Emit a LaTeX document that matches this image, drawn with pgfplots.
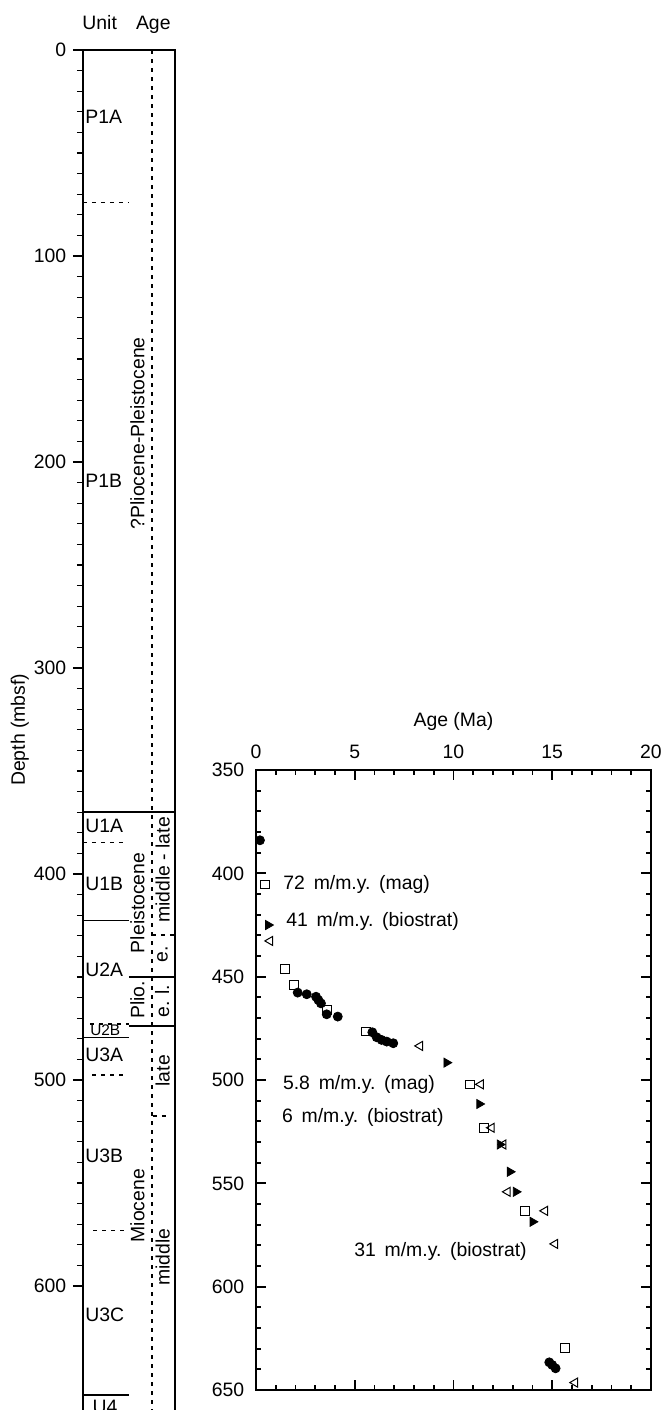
\documentclass[border=0pt]{standalone}
\usepackage{fontspec}
\setmainfont{Liberation Sans}
\usepackage{pgfplots}
\pgfplotsset{compat=1.18}

\newcommand{\lab}{\fontsize{9.7}{11}\selectfont}

% marker data (age Ma, depth mbsf)
\pgfplotstableread{
age depth
0.20 384.0
2.11 457.7
2.57 458.5
3.04 459.7
3.16 461.3
3.29 462.9
3.58 468.2
4.14 469.3
5.89 476.9
6.11 479.3
6.36 480.6
6.62 481.4
6.95 482.2
14.85 636.6
15.00 637.9
15.17 639.5
}\circles
\pgfplotstableread{
age depth
0.46 405.3
1.47 446.4
1.92 454.0
3.58 466.1
5.57 476.6
10.84 502.1
11.54 523.1
13.62 563.3
15.65 629.8
}\squares
\pgfplotstableread{
age depth
0.62 425.0
9.65 491.6
11.31 511.6
12.35 531.2
12.86 544.4
13.16 554.1
14.01 568.6
}\filltri
\pgfplotstableread{
age depth
0.71 432.7
8.30 483.5
11.38 502.1
11.93 523.1
12.52 531.2
12.74 554.1
14.63 563.3
15.14 579.3
16.15 646.4
}\opentri

\begin{document}
\lab
\begin{tikzpicture}
% ---- left: unit / age column ----
\begin{axis}[
  at={(41.5pt,-25pt)}, anchor=north west,
  scale only axis, width=46pt, height=700.4pt,
  xmin=0, xmax=2, ymin=0, ymax=680, y dir=reverse,
  xtick=\empty,
  ytick={0,100,...,600}, minor y tick num=9,
  ytick pos=left, tick align=outside,
  major tick length=5pt, minor tick length=3pt,
  tick style={black, line width=0.6pt},
  axis line style={line width=0.8pt},
  font=\lab, ticklabel style={font=\lab},
  /pgf/number format/assume math mode=true,
  clip=false,
]
\addplot[black, line width=0.6pt, dash pattern=on 2pt off 2.5pt] coordinates {(1.5,0) (1.5,680)};
\addplot[black, line width=0.8pt] coordinates {(0,370) (2,370)};
\addplot[black, line width=0.8pt] coordinates {(0,422.5) (1,422.5)};
\addplot[black, line width=0.8pt] coordinates {(0,479.3) (1,479.3)};
\addplot[black, line width=0.8pt] coordinates {(0,653) (1,653)};
\addplot[black, line width=0.8pt] coordinates {(1,450) (2,450)};
\addplot[black, line width=0.8pt] coordinates {(1,473.8) (2,473.8)};
\addplot[black, line width=0.6pt, dash pattern=on 2pt off 2.5pt] coordinates {(0,74) (1,74)};
\addplot[black, line width=0.6pt, dash pattern=on 2pt off 2.5pt] coordinates {(0,384.5) (0.96,384.5)};
\addplot[black, line width=0.6pt, dash pattern=on 2pt off 2.5pt] coordinates {(0.15,472.8) (1,472.8)};
\addplot[black, line width=0.6pt, dash pattern=on 2pt off 2.5pt] coordinates {(0.2,497.6) (0.92,497.6)};
\addplot[black, line width=0.6pt, dash pattern=on 2pt off 2.5pt] coordinates {(0.22,573) (0.96,573)};
\addplot[black, line width=0.6pt, dash pattern=on 2pt off 2.5pt] coordinates {(1.5,429.6) (2,429.6)};
\addplot[black, line width=0.6pt, dash pattern=on 2pt off 2.5pt] coordinates {(1.52,517.5) (1.9,517.5)};

\node[anchor=base] at (axis cs:0.363,-10.2) {Unit};
\node[anchor=base] at (axis cs:1.528,-10.2) {Age};
\node[rotate=90] at (axis cs:-1.37,330) {Depth (mbsf)};

\begin{scope}[every node/.style={anchor=west, inner sep=0pt}]
\node at (axis cs:0.043,32.5) {P1A};
\node at (axis cs:0.043,209) {P1B};
\node at (axis cs:0.043,376.7) {U1A};
\node at (axis cs:0.043,405) {U1B};
\node at (axis cs:0.043,446.6) {U2A};
\node[font=\fontsize{7.7}{9}\selectfont] at (axis cs:0.15,475.9) {U2B};
\node at (axis cs:0.043,488) {U3A};
\node at (axis cs:0.043,537) {U3B};
\node at (axis cs:0.043,614) {U3C};
\node at (axis cs:0.2,658.5) {U4};
\end{scope}

\node[rotate=90] at (axis cs:1.185,186) {?Pliocene-Pleistocene};
\node[rotate=90] at (axis cs:1.185,414) {Pleistocene};
\node[rotate=90] at (axis cs:1.73,398) {middle - late};
\node[rotate=90] at (axis cs:1.73,439) {e.};
\node[rotate=90] at (axis cs:1.185,461) {Plio.};
\node[rotate=90] at (axis cs:1.72,461.7) {e. l.};
\node[rotate=90] at (axis cs:1.73,495.5) {late};
\node[rotate=90] at (axis cs:1.185,561) {Miocene};
\node[rotate=90] at (axis cs:1.73,586) {middle};
\end{axis}

% ---- right: age-depth plot ----
\begin{axis}[
  at={(128pt,-385pt)}, anchor=north west,
  scale only axis, width=197.5pt, height=310pt,
  xmin=0, xmax=20, ymin=350, ymax=650, y dir=reverse,
  xtick={0,5,...,20}, minor x tick num=4,
  ytick={350,400,...,650}, minor y tick num=4,
  xticklabel pos=right,
  tick align=inside,
  major tick length=5pt, minor tick length=2.5pt,
  tick style={black, line width=0.9pt},
  axis line style={line width=1.3pt},
  font=\lab, ticklabel style={font=\lab},
  xticklabel style={yshift=2pt},
  yticklabel style={xshift=-2.5pt},
  /pgf/number format/assume math mode=true,
  clip=false,
]
\addplot[only marks, mark=square, mark size=2.15pt, mark options={black, line width=0.5pt}] table[x=age, y=depth] {\squares};
\addplot[only marks, mark=triangle, mark size=2.6pt, mark options={black, rotate=90, line width=0.5pt}] table[x=age, y=depth] {\opentri};
\addplot[only marks, mark=triangle*, mark size=2.6pt, mark options={black, fill=black, rotate=-90}] table[x=age, y=depth] {\filltri};
\addplot[only marks, mark=*, mark size=2.25pt, mark options={black, fill=black}] table[x=age, y=depth] {\circles};

\node[anchor=base] at (axis cs:10,329.1) {Age (Ma)};
\begin{scope}[every node/.style={anchor=west, inner sep=0pt}]
\node at (axis cs:1.37,405.3) {72\hspace{0.45em}m/m.y.\hspace{0.45em}(mag)};
\node at (axis cs:1.52,423.5) {41\hspace{0.45em}m/m.y.\hspace{0.45em}(biostrat)};
\node at (axis cs:1.35,502) {5.8\hspace{0.45em}m/m.y.\hspace{0.45em}(mag)};
\node at (axis cs:1.30,518) {6\hspace{0.45em}m/m.y.\hspace{0.45em}(biostrat)};
\node at (axis cs:4.96,583) {31\hspace{0.45em}m/m.y.\hspace{0.45em}(biostrat)};
\end{scope}
\end{axis}

\pgfresetboundingbox
\path[use as bounding box] (0,0) rectangle (332pt,-705pt);
\end{tikzpicture}
\end{document}
